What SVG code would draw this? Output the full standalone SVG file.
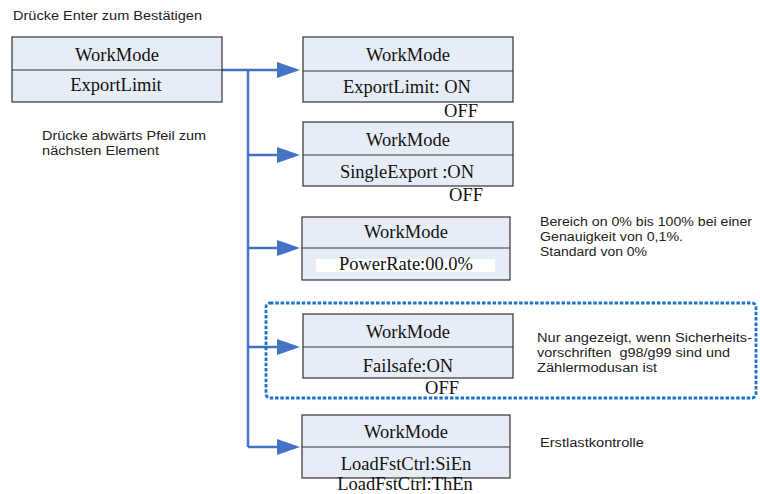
<svg xmlns="http://www.w3.org/2000/svg" width="760" height="494" viewBox="0 0 760 494">
<defs>
<style>
.box{fill:#e7edf7;stroke:#333;stroke-width:1.2}
.div{stroke:#333;stroke-width:1.2}
.t{font-family:"Liberation Serif","Times New Roman",serif;font-size:18.5px;fill:#111;text-anchor:middle}
.s{font-family:"Liberation Sans",Arial,sans-serif;font-size:12px;fill:#222}
.c{fill:none;stroke:#4472c4;stroke-width:2.5}
.ah{fill:#4472c4}
</style>
</defs>
<rect width="760" height="494" fill="#fff"/>
<text class="s" x="13" y="20" textLength="189" lengthAdjust="spacingAndGlyphs">Drücke Enter zum Bestätigen</text>
<text class="s" x="42" y="140" textLength="164" lengthAdjust="spacingAndGlyphs">Drücke abwärts Pfeil zum</text>
<text class="s" x="42" y="155" textLength="117" lengthAdjust="spacingAndGlyphs">nächsten Element</text>

<g id="connectors">
<line class="c" x1="222" y1="70" x2="248" y2="70"/>
<line class="c" x1="248" y1="69" x2="248" y2="447"/>
<path class="c" d="M248,70 H277"/>
<path class="ah" d="M277,62 L300,70 L277,78 z"/>
<path class="c" d="M248,155 H277"/>
<path class="ah" d="M277,147 L300,155 L277,163 z"/>
<path class="c" d="M248,248 H277"/>
<path class="ah" d="M277,240 L300,248 L277,256 z"/>
<path class="c" d="M248,347 H277"/>
<path class="ah" d="M277,339 L300,347 L277,355 z"/>
<path class="c" d="M248,447 H277"/>
<path class="ah" d="M277,439 L300,447 L277,455 z"/>
</g>

<rect x="266" y="303" width="490" height="95" rx="4" fill="none" stroke="#1a72c6" stroke-width="2.8" stroke-dasharray="3.5 1.8"/>

<g id="n0">
<rect class="box" x="12" y="37" width="210" height="65"/>
<line class="div" x1="12" y1="70" x2="222" y2="70"/>
<text class="t" x="117" y="61">WorkMode</text>
<text class="t" x="116" y="91">ExportLimit</text>
</g>

<g id="n1">
<rect class="box" x="303" y="37" width="210" height="65"/>
<line class="div" x1="303" y1="71" x2="513" y2="71"/>
<text class="t" x="408" y="61">WorkMode</text>
<text class="t" x="407" y="93">ExportLimit: ON</text>
<text class="t" x="461" y="117">OFF</text>
</g>

<g id="n2">
<rect class="box" x="303" y="122" width="210" height="64"/>
<line class="div" x1="303" y1="155" x2="513" y2="155"/>
<text class="t" x="408" y="146">WorkMode</text>
<text class="t" x="407" y="178">SingleExport :ON</text>
<text class="t" x="466" y="201">OFF</text>
</g>

<g id="n3">
<rect class="box" x="302" y="217" width="208" height="63"/>
<line class="div" x1="302" y1="248" x2="510" y2="248"/>
<rect x="316" y="259" width="179" height="13" fill="#fff"/>
<text class="t" x="406" y="238">WorkMode</text>
<text class="t" x="406" y="270">PowerRate:00.0%</text>
</g>
<text class="s" x="540" y="226" textLength="212" lengthAdjust="spacingAndGlyphs">Bereich on 0% bis 100% bei einer</text>
<text class="s" x="540" y="241" textLength="143" lengthAdjust="spacingAndGlyphs">Genauigkeit von 0,1%.</text>
<text class="s" x="540" y="256" textLength="107" lengthAdjust="spacingAndGlyphs">Standard von 0%</text>

<g id="n4">
<rect class="box" x="303" y="314" width="210" height="64"/>
<line class="div" x1="303" y1="347" x2="513" y2="347"/>
<text class="t" x="408" y="338">WorkMode</text>
<text class="t" x="408" y="372">Failsafe:ON</text>
<text class="t" x="442" y="394">OFF</text>
</g>
<text class="s" x="537" y="342" textLength="215" lengthAdjust="spacingAndGlyphs">Nur angezeigt, wenn Sicherheits-</text>
<text class="s" x="537" y="357" textLength="193" lengthAdjust="spacingAndGlyphs" xml:space="preserve">vorschriften  g98/g99 sind und</text>
<text class="s" x="537" y="372" textLength="120" lengthAdjust="spacingAndGlyphs">Zählermodusan ist</text>

<g id="n5">
<rect class="box" x="302" y="415" width="208" height="63"/>
<line class="div" x1="302" y1="447" x2="510" y2="447"/>
<text class="t" x="406" y="438">WorkMode</text>
<text class="t" x="406" y="470">LoadFstCtrl:SiEn</text>
<text class="t" x="405" y="490" font-size="18">LoadFstCtrl:ThEn</text>
</g>
<text class="s" x="540" y="447" textLength="104" lengthAdjust="spacingAndGlyphs">Erstlastkontrolle</text>
</svg>
